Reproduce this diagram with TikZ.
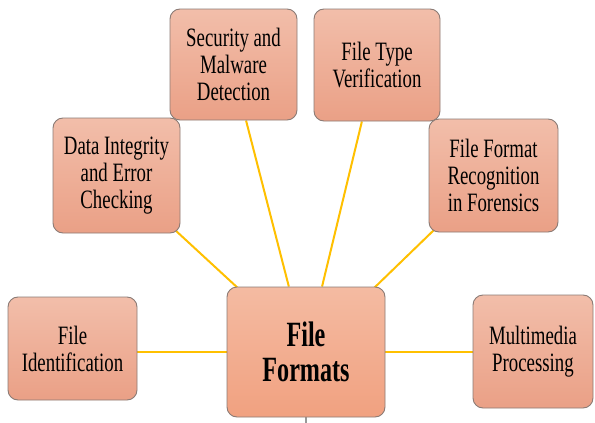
\documentclass[tikz,border=0pt]{standalone}
\usepackage{fontspec}
\setmainfont{Liberation Serif}[FakeStretch=0.71]
\newfontfamily\ctrfont{Liberation Serif}[FakeStretch=0.68]
\usetikzlibrary{calc,backgrounds}
\definecolor{boxtop}{HTML}{F2BEAA}
\definecolor{boxbot}{HTML}{EAA086}
\definecolor{ctrtop}{HTML}{F4BBA2}
\definecolor{ctrbot}{HTML}{F1A180}
\definecolor{boxedge}{HTML}{8B7B75}
\definecolor{conncol}{HTML}{FFC000}
\tikzset{
  box/.style={draw=boxedge, line width=0.9pt, rounded corners=10pt,
    top color=boxtop, bottom color=boxbot, align=center, inner sep=0pt,
    font=\fontsize{26.5}{27}\selectfont, text=black},
  ctrbox/.style={box, top color=ctrtop, bottom color=ctrbot,
    font=\ctrfont\fontsize{35.5}{35}\selectfont\bfseries},
  conn/.style={draw=conncol, line width=2pt},
  tickline/.style={draw=gray!80, line width=1.2pt}
}
\begin{document}
\begin{tikzpicture}[x=1pt,y=-1pt]
\useasboundingbox (0,0) rectangle (595,423);
\node[ctrbox, minimum width=158pt, minimum height=130pt] (ctr) at (306,352) {File\\Formats};
\node[box, minimum width=129pt, minimum height=103pt] (fid) at (72.5,348.5) {File\\Identification};
\node[box, minimum width=127pt, minimum height=115pt] (di) at (116.5,175.5) {Data Integrity\\and Error\\Checking};
\node[box, minimum width=127pt, minimum height=111pt] (sec) at (233.5,64.5) {Security and\\Malware\\Detection};
\node[box, minimum width=126pt, minimum height=112pt] (ftv) at (377,65) {File Type\\Verification};
\node[box, minimum width=129pt, minimum height=113pt] (fmt) at (493.5,175.5) {File Format\\Recognition\\in Forensics};
\node[box, minimum width=120pt, minimum height=113pt] (mm) at (533,351.5) {Multimedia\\Processing};
\coordinate (tick) at (306,423);
\begin{scope}[on background layer]
\fill[white] (0,0) rectangle (595,423);
\draw[conn] (fid.east |- ctr.west) -- (ctr.west);
\draw[conn] (ctr.east) -- (ctr.east -| mm.west);
\draw[conn] ($(di.south east)+(-6,-4)$) -- ($(ctr.north west)+(13,3)$);
\draw[conn] ($(sec.south west)!0.598!(sec.south east)$) -- ($(ctr.north west)!0.392!(ctr.north east)$);
\draw[conn] ($(ftv.south west)!0.381!(ftv.south east)$) -- ($(ctr.north west)!0.601!(ctr.north east)$);
\draw[conn] ($(fmt.south west)+(6,-3)$) -- ($(ctr.north east)+(-13,3)$);
\draw[tickline] (ctr.south) -- (tick);
\end{scope}
\end{tikzpicture}
\end{document}
